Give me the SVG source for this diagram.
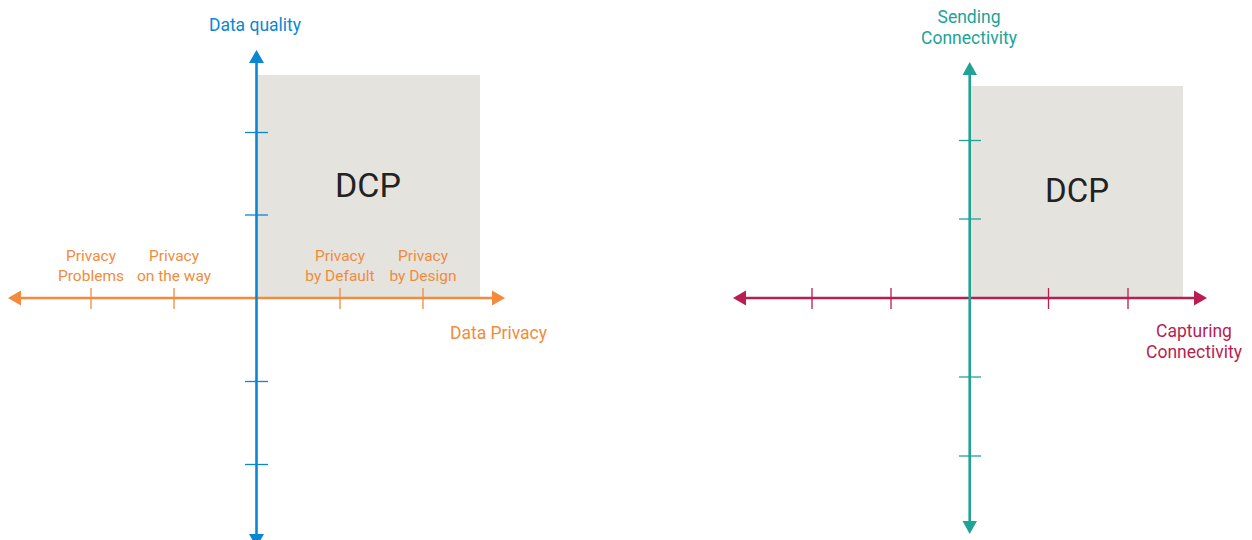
<svg xmlns="http://www.w3.org/2000/svg" width="1252" height="540" viewBox="0 0 1252 540">
<defs>
<style>
.box{fill:#E4E3DE}
.lbl{font-family:Roboto,"Liberation Sans",sans-serif;font-weight:400;font-size:17.5px;text-anchor:middle}
.tl{font-family:Roboto,"Liberation Sans",sans-serif;font-size:15.5px;text-anchor:middle;fill:#F28B3C}
.dcp{font-family:Roboto,"Liberation Sans",sans-serif;font-size:34px;text-anchor:middle;fill:#222}
.ax{stroke-width:2.6;fill:none}
.tk{stroke-width:1.3;fill:none}
.o{stroke:#F28B3C}.b{stroke:#0A87D2}.t{stroke:#20A396}.r{stroke:#B91D51}
</style>
</defs>
<g id="quadrant-left">
<rect class="box" x="257" y="75" width="223" height="223"/>
<text class="dcp" x="368" y="197">DCP</text>
</g>
<g id="quadrant-right">
<rect class="box" x="970" y="86" width="213" height="212"/>
<text class="dcp" x="1077" y="202" style="font-size:33px">DCP</text>
</g>
<g id="connectors">
<line class="ax o" x1="18" y1="298" x2="496" y2="298"/>
<polygon points="8,298 21,290.5 21,305.5" fill="#F28B3C"/>
<polygon points="505,298 492,290.5 492,305.5" fill="#F28B3C"/>
<g class="tk o">
<line x1="91" y1="288" x2="91" y2="309"/>
<line x1="174" y1="288" x2="174" y2="309"/>
<line x1="340" y1="288" x2="340" y2="309"/>
<line x1="423" y1="288" x2="423" y2="309"/>
</g>
<line class="ax b" x1="256.5" y1="60" x2="256.5" y2="540"/>
<polygon points="256.5,50 249,63 264,63" fill="#0A87D2"/>
<polygon points="256.5,547 249,534 264,534" fill="#0A87D2"/>
<g class="tk b">
<line x1="245" y1="132.5" x2="268" y2="132.5"/>
<line x1="245" y1="215" x2="268" y2="215"/>
<line x1="245" y1="381.5" x2="268" y2="381.5"/>
<line x1="245" y1="464.5" x2="268" y2="464.5"/>
</g>
<line class="ax r" x1="743" y1="298" x2="1198" y2="298"/>
<polygon points="733,298 746,290.5 746,305.5" fill="#B91D51"/>
<polygon points="1207,298 1194,290.5 1194,305.5" fill="#B91D51"/>
<g class="tk r">
<line x1="812" y1="288" x2="812" y2="309"/>
<line x1="891" y1="288" x2="891" y2="309"/>
<line x1="1048.5" y1="288" x2="1048.5" y2="309"/>
<line x1="1128" y1="288" x2="1128" y2="309"/>
</g>
<line class="ax t" x1="969.7" y1="72" x2="969.7" y2="524"/>
<polygon points="969.7,62 962.5,75 977,75" fill="#20A396"/>
<polygon points="969.7,534 962.5,521 977,521" fill="#20A396"/>
<g class="tk t">
<line x1="959" y1="140.5" x2="981" y2="140.5"/>
<line x1="959" y1="219" x2="981" y2="219"/>
<line x1="959" y1="377" x2="981" y2="377"/>
<line x1="959" y1="456" x2="981" y2="456"/>
</g>
</g>
<g id="labels">
<text class="lbl" x="255" y="30.5" fill="#0A87D2">Data quality</text>
<text class="lbl" x="498.5" y="339" fill="#F28B3C">Data Privacy</text>
<text class="tl" x="91" y="261">Privacy</text>
<text class="tl" x="91" y="281">Problems</text>
<text class="tl" x="174" y="261">Privacy</text>
<text class="tl" x="174" y="281">on the way</text>
<text class="tl" x="340" y="261">Privacy</text>
<text class="tl" x="340" y="281">by Default</text>
<text class="tl" x="423" y="261">Privacy</text>
<text class="tl" x="423" y="281">by Design</text>
<text class="lbl" x="969" y="23" fill="#20A396">Sending</text>
<text class="lbl" x="969" y="44" fill="#20A396">Connectivity</text>
<text class="lbl" x="1194" y="337" fill="#B91D51">Capturing</text>
<text class="lbl" x="1194" y="357.5" fill="#B91D51">Connectivity</text>
</g>
</svg>
